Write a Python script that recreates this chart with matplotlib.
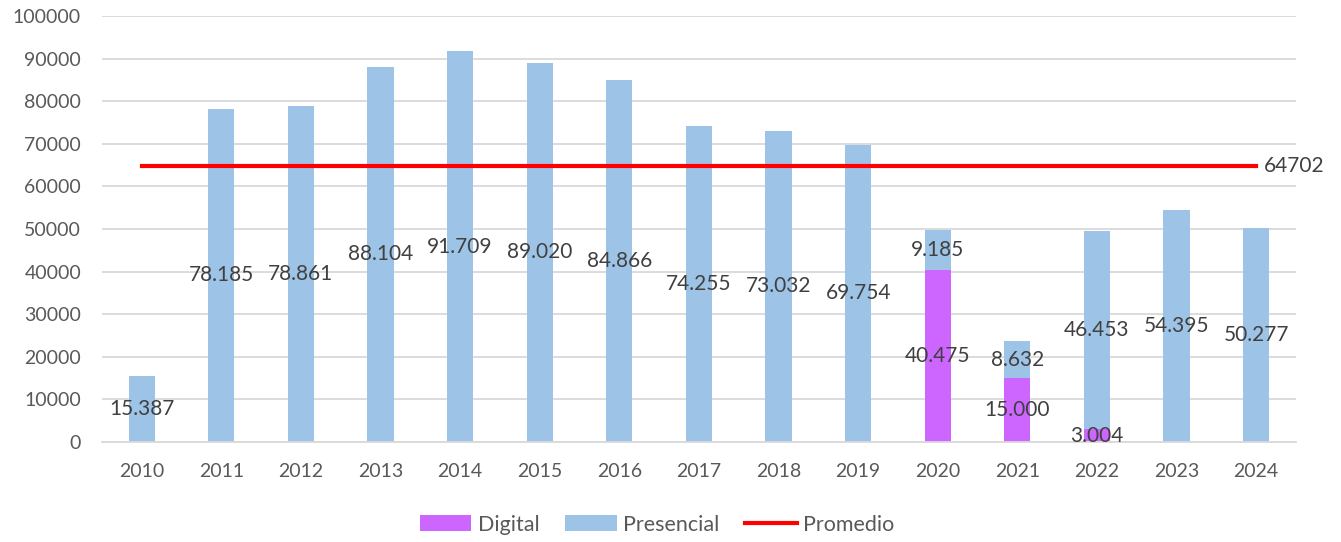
"""Asistencia anual: digital vs presencial."""

import matplotlib
matplotlib.use('Agg')
import matplotlib.pyplot as plt
import numpy as np

years = ['2010', '2011', '2012', '2013', '2014', '2015', '2016', '2017',
         '2018', '2019', '2020', '2021', '2022', '2023', '2024']
digital = [0, 0, 0, 0, 0, 0, 0, 0, 0, 0, 40475, 15000, 3004, 0, 0]
presencial = [15387, 78185, 78861, 88104, 91709, 89020, 84866, 74255,
              73032, 69754, 9185, 8632, 46453, 54395, 50277]
promedio = 64702


def fmt(v):
    # miles con punto
    return f'{v:,}'.replace(',', '.')


plt.rcParams['font.family'] = ['Lato', 'DejaVu Sans']

fig = plt.figure(figsize=(13.41, 5.42), dpi=100)
ax = fig.add_axes([0.076, 0.1845, 0.8904, 0.786])

x = np.arange(len(years))
w = 0.33
b1 = ax.bar(x, digital, w, color='#CC66FF', label='Digital', zorder=2)
b2 = ax.bar(x, presencial, w, bottom=digital, color='#9DC3E6',
            label='Presencial', zorder=2)
line, = ax.plot([x[0], x[-1]], [promedio, promedio], color='#FF0000',
                lw=3, label='Promedio', zorder=3)

# etiquetas de datos centradas en cada segmento
for i in range(len(years)):
    if digital[i]:
        ax.text(x[i], digital[i] / 2, fmt(digital[i]), ha='center',
                va='center', fontsize=15, color='#404040', zorder=4)
    ax.text(x[i], digital[i] + presencial[i] / 2, fmt(presencial[i]),
            ha='center', va='center', fontsize=15, color='#404040', zorder=4)

ax.text(x[-1] + 0.1, promedio, str(promedio), ha='left', va='center',
        fontsize=15, color='#404040')

ax.set_xlim(-0.5, len(years) - 0.5)
ax.set_ylim(0, 100000)
ax.set_yticks(range(0, 100001, 10000))
ax.set_xticks(x)
ax.set_xticklabels(years)
ax.tick_params(axis='both', length=0, labelsize=14, colors='#595959')
ax.tick_params(axis='x', pad=15)
ax.tick_params(axis='y', pad=15)
ax.grid(axis='y', color='#D9D9D9', lw=1.3, zorder=0)
for s in ['top', 'right', 'left']:
    ax.spines[s].set_visible(False)
ax.spines['bottom'].set_color('#D9D9D9')
ax.spines['bottom'].set_linewidth(1.3)

leg = fig.legend(handles=[b1, b2, line], loc='lower center',
                 bbox_to_anchor=(0.49, -0.022), ncol=3, frameon=False,
                 fontsize=15.5, handlelength=2.4, handleheight=0.7,
                 columnspacing=1.2, handletextpad=0.3)
for t in leg.get_texts():
    t.set_color('#595959')

fig.savefig('out.png', dpi=100)
